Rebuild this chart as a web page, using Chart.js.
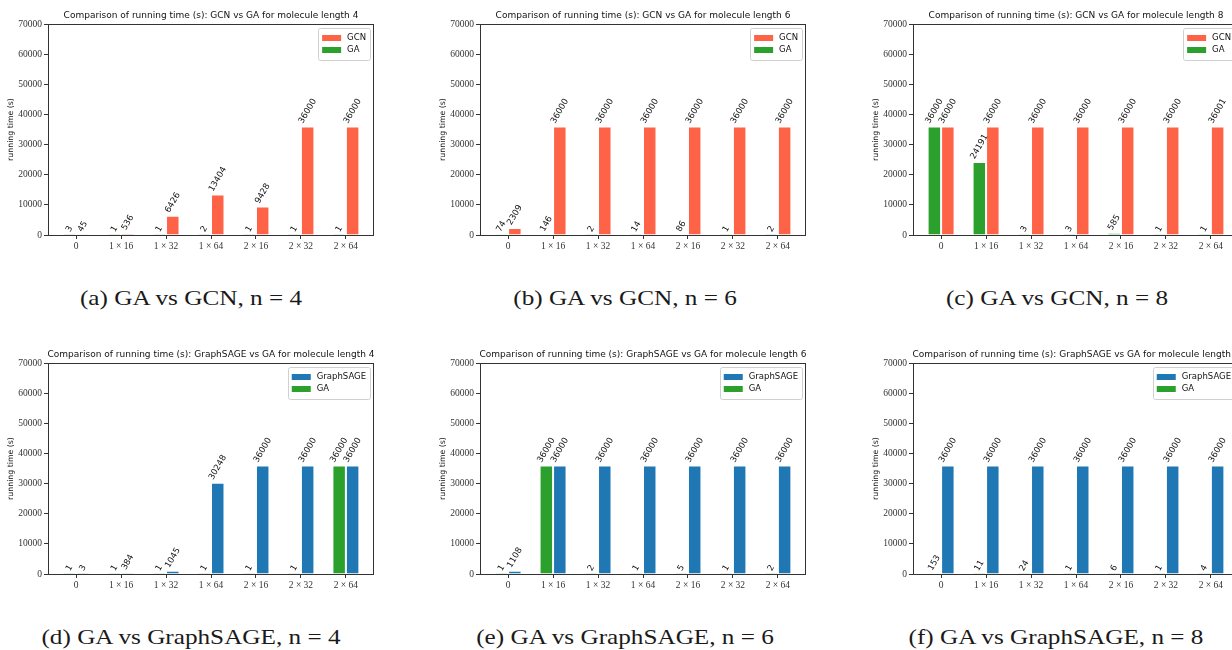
<!DOCTYPE html>
<html>
<head>
<meta charset="utf-8">
<script src="https://cdn.jsdelivr.net/npm/chart.js@4.4.0/dist/chart.umd.min.js"></script>
<style>
  html, body { margin: 0; padding: 0; background: #fff; overflow: hidden; }
  body { width: 1232px; height: 650px; position: relative; }
  canvas { position: absolute; }
  .caption { position: absolute; transform: translate(-50%, -50%) scaleX(1.2); white-space: nowrap;
             font-family: "Liberation Serif", serif; font-size: 21px; color: #1a1a1a; }
</style>
</head>
<body>
<canvas id="c1" width="380" height="260" style="left:0px;top:0px"></canvas>
<canvas id="c2" width="380" height="260" style="left:432px;top:0px"></canvas>
<canvas id="c3" width="380" height="260" style="left:865px;top:0px"></canvas>
<canvas id="c4" width="380" height="260" style="left:0px;top:339px"></canvas>
<canvas id="c5" width="380" height="260" style="left:432px;top:339px"></canvas>
<canvas id="c6" width="380" height="260" style="left:865px;top:339px"></canvas>

<div class="caption" style="left:191px;top:298px">(a) GA vs GCN, n = 4</div>
<div class="caption" style="left:625px;top:298px">(b) GA vs GCN, n = 6</div>
<div class="caption" style="left:1057px;top:298px">(c) GA vs GCN, n = 8</div>
<div class="caption" style="left:191px;top:637px">(d) GA vs GraphSAGE, n = 4</div>
<div class="caption" style="left:625px;top:637px">(e) GA vs GraphSAGE, n = 6</div>
<div class="caption" style="left:1056px;top:637px">(f) GA vs GraphSAGE, n = 8</div>

<script>
// ---- data ----
var categories = ['0', '1 × 16', '1 × 32', '1 × 64', '2 × 16', '2 × 32', '2 × 64'];
var yTicks = [0, 10000, 20000, 30000, 40000, 50000, 60000, 70000];

var gaGcn4  = [3, 1, 1, 2, 1, 1, 1];
var gcn4    = [45, 536, 6426, 13404, 9428, 36000, 36000];
var gaGcn6  = [74, 146, 2, 14, 86, 1, 2];
var gcn6    = [2309, 36000, 36000, 36000, 36000, 36000, 36000];
var gaGcn8  = [36000, 24191, 3, 3, 585, 1, 1];
var gcn8    = [36000, 36000, 36000, 36000, 36000, 36000, 36001];

var gaSage4 = [1, 1, 1, 1, 1, 1, 36000];
var sage4   = [3, 384, 1045, 30248, 36000, 36000, 36000];
var gaSage6 = [1, 36000, 2, 1, 5, 1, 2];
var sage6   = [1108, 36000, 36000, 36000, 36000, 36000, 36000];
var gaSage8 = [153, 11, 24, 1, 6, 1, 4];
var sage8   = [36000, 36000, 36000, 36000, 36000, 36000, 36000];

var GREEN = '#2ca02c', TOMATO = '#ff6347', BLUE = '#1f77b4';

var panels = [
  { id: 'c1', model: 'GCN', n: 4, ga: gaGcn4, other: gcn4, color: TOMATO },
  { id: 'c2', model: 'GCN', n: 6, ga: gaGcn6, other: gcn6, color: TOMATO },
  { id: 'c3', model: 'GCN', n: 8, ga: gaGcn8, other: gcn8, color: TOMATO },
  { id: 'c4', model: 'GraphSAGE', n: 4, ga: gaSage4, other: sage4, color: BLUE },
  { id: 'c5', model: 'GraphSAGE', n: 6, ga: gaSage6, other: sage6, color: BLUE },
  { id: 'c6', model: 'GraphSAGE', n: 8, ga: gaSage8, other: sage8, color: BLUE }
];

function toPoints(arr) {
  return arr.map(function (v, i) { return { x: i, y: v }; });
}

// frame, title, y label, value labels and legend, matplotlib style
var decor = {
  id: 'decor',
  afterDatasetsDraw: function (chart, args, opts) {
    var ctx = chart.ctx, a = chart.chartArea;
    ctx.save();

    // value labels, rotated 60 degrees
    ctx.font = '8.5px "DejaVu Sans"';
    ctx.fillStyle = '#111';
    chart.data.datasets.forEach(function (ds, i) {
      var meta = chart.getDatasetMeta(i);
      meta.data.forEach(function (bar, j) {
        var txt = String(ds.data[j].y);
        var w = ctx.measureText(txt).width, h = 8.5;
        var bh = w * 0.866 + h * 0.5;
        ctx.save();
        ctx.translate(bar.x, bar.y - 1.5 - bh / 2);
        ctx.rotate(-Math.PI / 3);
        ctx.textAlign = 'center';
        ctx.textBaseline = 'middle';
        ctx.fillText(txt, 0, 0);
        ctx.restore();
      });
    });

    // frame
    ctx.strokeStyle = '#333';
    ctx.lineWidth = 1;
    ctx.strokeRect(Math.round(a.left) + 0.5, Math.round(a.top) + 0.5,
                   Math.round(a.right - a.left) - 1, Math.round(a.bottom - a.top));

    // title
    ctx.fillStyle = '#111';
    ctx.font = '9px "DejaVu Sans"';
    ctx.textAlign = 'center';
    ctx.textBaseline = 'middle';
    ctx.fillText(opts.title, (a.left + a.right) / 2, 15.5);

    // y label
    ctx.save();
    ctx.translate(11, (a.top + a.bottom) / 2);
    ctx.rotate(-Math.PI / 2);
    ctx.font = '7.8px "DejaVu Sans"';
    ctx.fillText('running time (s)', 0, 0);
    ctx.restore();

    // legend (reversed order: model first, then GA)
    var items = chart.data.datasets.slice().reverse();
    ctx.font = '8.5px "DejaVu Sans"';
    var maxW = 0;
    items.forEach(function (d) { maxW = Math.max(maxW, ctx.measureText(d.label).width); });
    var boxW = 4 + 19 + 6 + maxW + 4, boxH = 32;
    var bx = a.right - 4 - boxW, by = a.top + 4;
    ctx.fillStyle = 'rgba(255,255,255,0.8)';
    ctx.strokeStyle = '#d0d0d0';
    ctx.beginPath();
    ctx.roundRect(Math.round(bx) + 0.5, by + 0.5, Math.round(boxW), boxH, 2);
    ctx.fill();
    ctx.stroke();
    items.forEach(function (d, k) {
      var cy = by + 10 + k * 12;
      ctx.fillStyle = d.backgroundColor;
      ctx.fillRect(bx + 4, cy - 3, 19, 6);
      ctx.fillStyle = '#111';
      ctx.textAlign = 'left';
      ctx.fillText(d.label, bx + 4 + 19 + 6, cy);
    });

    ctx.restore();
  }
};

panels.forEach(function (p) {
  new Chart(document.getElementById(p.id), {
    type: 'bar',
    data: {
      datasets: [
        { label: 'GA', data: toPoints(p.ga), backgroundColor: GREEN,
          borderColor: 'rgba(255,255,255,0.45)', borderWidth: 1 },
        { label: p.model, data: toPoints(p.other), backgroundColor: p.color,
          borderColor: 'rgba(255,255,255,0.45)', borderWidth: 1 }
      ]
    },
    options: {
      responsive: false,
      animation: false,
      categoryPercentage: 0.6,
      barPercentage: 1.0,
      layout: { padding: { top: 24, right: 6, left: 0, bottom: 0 } },
      plugins: {
        legend: { display: false },
        tooltip: { enabled: false },
        decor: { title: 'Comparison of running time (s): ' + p.model + ' vs GA for molecule length ' + p.n }
      },
      scales: {
        x: {
          type: 'linear',
          offset: false,
          min: -0.625,
          max: 6.625,
          afterFit: function (s) { s.height = 25; },
          afterBuildTicks: function (s) {
            s.ticks = categories.map(function (c, i) { return { value: i }; });
          },
          ticks: {
            autoSkip: false,
            maxRotation: 0,
            padding: 2,
            color: '#333',
            font: { family: '"Liberation Serif"', size: 9.5 },
            callback: function (v) { return categories[v]; }
          },
          grid: { offset: false, drawOnChartArea: false, drawTicks: true, tickLength: 4, color: '#333' },
          border: { display: false }
        },
        y: {
          min: 0,
          max: 70000,
          afterFit: function (s) { s.width = 48; },
          afterBuildTicks: function (s) {
            s.ticks = yTicks.map(function (v) { return { value: v }; });
          },
          ticks: {
            padding: 2,
            color: '#333',
            font: { family: '"Liberation Serif"', size: 9.5 },
            callback: function (v) { return String(v); }
          },
          grid: { drawOnChartArea: false, drawTicks: true, tickLength: 4, color: '#333' },
          border: { display: false }
        }
      }
    },
    plugins: [decor]
  });
});
</script>
</body>
</html>
